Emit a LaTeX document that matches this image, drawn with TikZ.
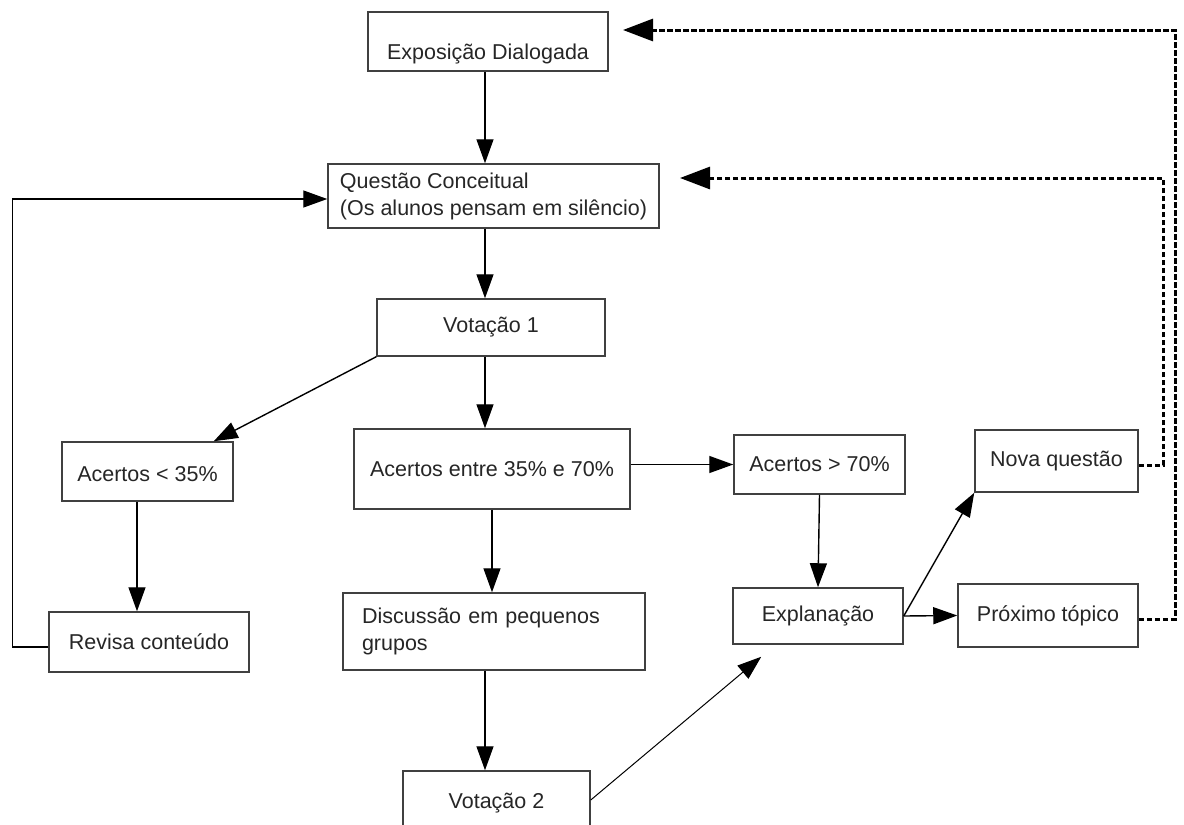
\documentclass[tikz,border=0pt]{standalone}
\usepackage{fontspec}
\setmainfont{Liberation Sans}
\usetikzlibrary{arrows.meta}
\tikzset{caixa/.style={rectangle,draw=black!75,fill=white,line width=1.5pt,
inner sep=0pt,text=black!85,font=\fontsize{21.5}{27}\selectfont}}
\tikzset{caixatexto/.style={caixa,align=left}}
\tikzset{seta/.style={line width=1.4pt,-{Triangle[length=24pt,width=17pt]}}}
\tikzset{retorno/.style={line width=3pt,dash pattern=on 5.5pt off 2.5pt,
-{Triangle[length=30pt,width=22pt]}}}

\begin{document}
\begin{tikzpicture}[x=1pt,y=-1pt]
        \useasboundingbox (0,0) rectangle (1184,825);

        \node[caixa, minimum width=240pt, minimum height=59pt, text height=40pt] (boxExpo) at (488, 41.5) {Exposição Dialogada};
        \node[caixatexto, minimum width=331pt, minimum height=64pt] (boxQuest) at (493.5, 196) {Questão Conceitual\\(Os alunos pensam em silêncio)};
        \node[caixa, minimum width=228pt, minimum height=57pt] (boxVot1) at (491, 327.5) {Votação 1};

        \node[caixa, minimum width=171pt, minimum height=59pt, text height=20pt] (boxAcBaixo) at (147.5, 471.5) {Acertos < 35\%};
        \node[caixa, minimum width=276pt, minimum height=80pt] (boxAcMeio) at (492, 469) {Acertos entre 35\% e 70\%};
        \node[caixa, minimum width=171pt, minimum height=59pt] (boxAcAlto) at (819.5, 464.5) {Acertos > 70\%};
        \node[caixa, minimum width=163pt, minimum height=62pt] (boxNova) at (1056.5, 461) {Nova questão};

        \node[caixa, minimum width=200pt, minimum height=60pt] (boxRevisa) at (149, 642) {Revisa conteúdo};
        \node[caixatexto, inner xsep=19pt, text width=264pt, minimum height=77pt] (boxDisc) at (494, 631.5) {Discussão em pequenos\\grupos};
        \node[caixa, minimum width=170pt, minimum height=56pt] (boxExpl) at (818, 616) {Explanação};
        \node[caixa, minimum width=180pt, minimum height=63pt] (boxProx) at (1048, 615.5) {Próximo tópico};
        \node[caixa, minimum width=187pt, minimum height=64pt] (boxVot2) at (496.5, 803) {Votação 2};

        \coordinate (eixo) at (485, 0);
        \coordinate (eixoAc) at ([xshift=-10.5pt]boxAcBaixo.south);
        \coordinate (cantoQuest) at (1163, 178);
        \coordinate (pontaQuest) at (680, 178);
        \coordinate (cantoExpo) at (1175, 30);
        \coordinate (pontaExpo) at (623, 30);

        \draw [seta] (boxExpo.south -| eixo) -- (boxQuest.north -| eixo);
        \draw [seta] (boxQuest.south -| eixo) -- (boxVot1.north -| eixo);
        \draw [seta] (boxVot1.south -| eixo) -- (boxAcMeio.north -| eixo);
        \draw [seta] (boxVot1.south west) -- ([xshift=-20pt]boxAcBaixo.north east);
        \draw [seta] (boxAcMeio.east |- boxAcAlto.west) -- (boxAcAlto.west);
        \draw [seta] (boxAcMeio.south) -- (boxAcMeio.south |- boxDisc.north);
        \draw [seta] (boxDisc.south -| eixo) -- (boxVot2.north -| eixo);
        \draw [seta] (eixoAc) -- (eixoAc |- boxRevisa.north);
        \draw [seta] ([yshift=-5pt]boxRevisa.west) -- ++(-36,0) |- ([yshift=-3pt]boxQuest.west);
        \draw [seta] (boxAcAlto.south) -- (boxExpl.north);
        \draw [seta, line width=1pt] ([yshift=3pt]boxVot2.east) -- ([xshift=29pt,yshift=-12pt]boxExpl.south west);
        \draw [seta] (boxExpl.east) -- (boxNova.south west);
        \draw [seta] (boxExpl.east) -- (boxProx.west);

        \draw [retorno] ([yshift=-4pt]boxNova.east) -| (cantoQuest) -- (pontaQuest);
        \draw [retorno] ([yshift=-4pt]boxProx.east) -| (cantoExpo) -- (pontaExpo);

    \end{tikzpicture}
\end{document}
